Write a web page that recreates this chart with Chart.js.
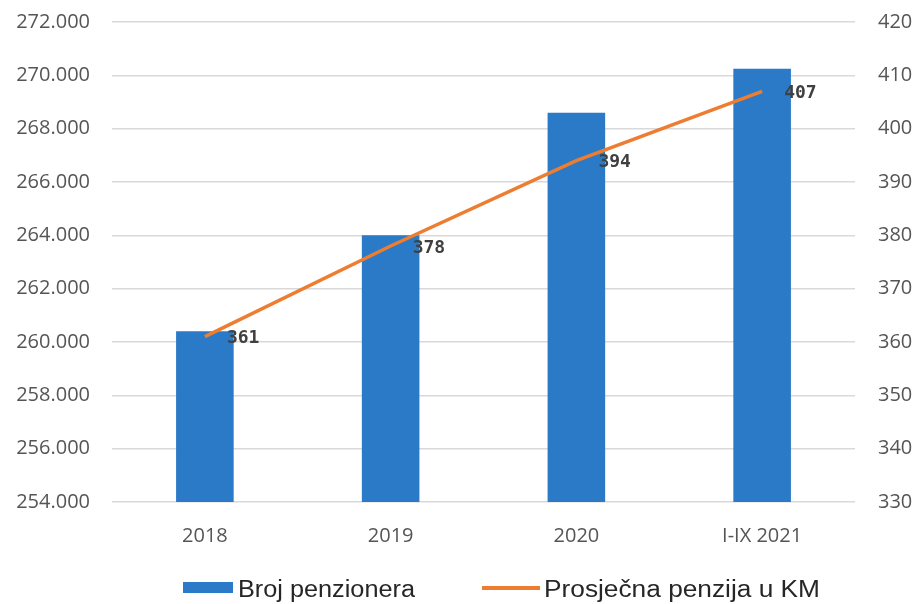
<!DOCTYPE html>
<html>
<head>
<meta charset="utf-8">
<script src="https://cdn.jsdelivr.net/npm/chart.js@4"></script>
<style>
html,body{margin:0;padding:0;background:#fff;}
#wrap{width:920px;height:604px;position:relative;}
</style>
</head>
<body>
<div id="wrap"><canvas id="c" width="920" height="604"></canvas></div>
<script>
const categories = ["2018", "2019", "2020", "I-IX 2021"];
const brojPenzionera = [260400, 264000, 268600, 270250];
const prosjecnaPenzija = [361, 378, 394, 407];
const seriesNames = ["Broj penzionera", "Prosječna penzija u KM"];
const leftTicks = {min: 254000, max: 272000, step: 2000};
const rightTicks = {min: 330, max: 420, step: 10};

const BLUE = "#2a7ac8";
const ORANGE = "#ED7D31";
const TICK = "#555555";

const fmt = v => Math.round(v).toString().replace(/\B(?=(\d{3})+(?!\d))/g, ".");

const labelPlugin = {
  id: "lineLabels",
  afterDatasetsDraw(chart) {
    const ctx = chart.ctx;
    const meta = chart.getDatasetMeta(1);
    ctx.save();
    ctx.font = "bold 18px 'DejaVu Sans Mono'";
    ctx.fillStyle = "#404040";
    ctx.textAlign = "left";
    ctx.textBaseline = "middle";
    meta.data.forEach((pt, i) => {
      ctx.fillText(String(prosjecnaPenzija[i]), pt.x + 22, pt.y + 2);
    });
    ctx.restore();
  }
};

const legendPlugin = {
  id: "customLegend",
  afterDraw(chart) {
    const ctx = chart.ctx;
    ctx.save();
    ctx.font = "23px 'Liberation Sans'";
    ctx.textBaseline = "alphabetic";
    ctx.textAlign = "left";
    ctx.fillStyle = BLUE;
    ctx.fillRect(183, 582, 50, 11);
    ctx.fillStyle = "#262626";
    const drawScaled = (txt, x, y, w) => {
      const m = ctx.measureText(txt).width;
      ctx.save();
      ctx.translate(x, y);
      ctx.scale(w / m, 1);
      ctx.fillText(txt, 0, 0);
      ctx.restore();
    };
    drawScaled(seriesNames[0], 238, 597, 177);
    ctx.strokeStyle = ORANGE;
    ctx.lineWidth = 4;
    ctx.beginPath();
    ctx.moveTo(482, 588);
    ctx.lineTo(540, 588);
    ctx.stroke();
    drawScaled(seriesNames[1], 544, 597, 276);
    ctx.restore();
  }
};

const fixY = (w) => function(s) { s.width = w; s.paddingTop = 0; s.paddingBottom = 0; };

new Chart(document.getElementById("c"), {
  data: {
    labels: categories,
    datasets: [
      {
        type: "bar",
        label: seriesNames[0],
        data: brojPenzionera,
        backgroundColor: BLUE,
        yAxisID: "y",
        order: 1,
        barPercentage: 1,
        categoryPercentage: 0.31
      },
      {
        type: "line",
        label: seriesNames[1],
        data: prosjecnaPenzija,
        borderColor: ORANGE,
        borderWidth: 3.5,
        pointRadius: 0,
        tension: 0,
        yAxisID: "y1",
        order: 0
      }
    ]
  },
  options: {
    responsive: false,
    animation: false,
    layout: {padding: {top: 22, bottom: 0, left: 0, right: 0}},
    plugins: {legend: {display: false}, tooltip: {enabled: false}},
    scales: {
      x: {
        offset: true,
        grid: {display: false, drawTicks: false},
        border: {display: false},
        ticks: {color: TICK, font: {family: "'Open Sans'", size: 20}, padding: 22, maxRotation: 0},
        afterFit(s) { s.height = 102; s.paddingLeft = 0; s.paddingRight = 0; }
      },
      y: {
        position: "left",
        min: leftTicks.min, max: leftTicks.max,
        ticks: {stepSize: leftTicks.step, color: TICK, font: {family: "'Open Sans'", size: 20}, padding: 22, callback: v => fmt(v)},
        grid: {color: "#d9d9d9", lineWidth: 1.5, drawTicks: false},
        border: {display: false},
        afterFit: fixY(112)
      },
      y1: {
        position: "right",
        min: rightTicks.min, max: rightTicks.max,
        ticks: {stepSize: rightTicks.step, color: TICK, font: {family: "'Open Sans'", size: 20}, padding: 23},
        grid: {display: false, drawTicks: false},
        border: {display: false},
        afterFit: fixY(65)
      }
    }
  },
  plugins: [labelPlugin, legendPlugin]
});
</script>
</body>
</html>
